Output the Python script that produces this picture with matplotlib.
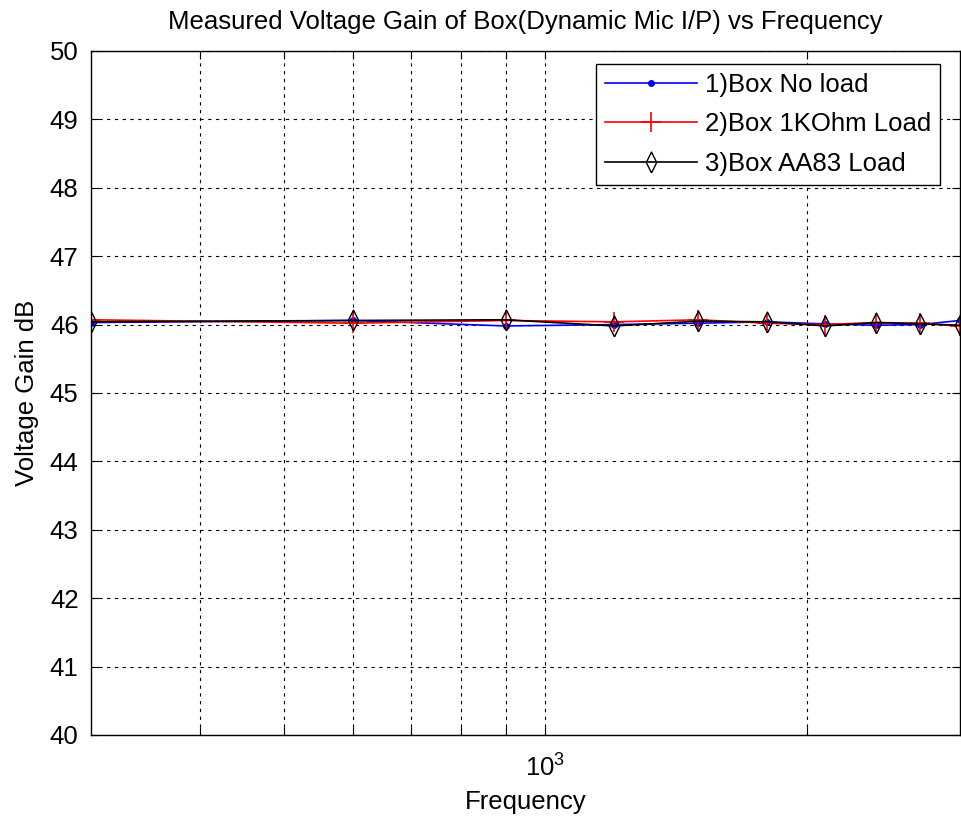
import matplotlib
matplotlib.use("Agg")
import matplotlib.pyplot as plt
from matplotlib.ticker import NullFormatter, FixedLocator

freq = [300, 600, 900, 1200, 1500, 1800, 2100, 2400, 2700, 3000]
gain_noload = [46.03, 46.06, 45.98, 46.00, 46.02, 46.04, 46.01, 45.99, 46.00, 46.06]
gain_1kohm = [46.07, 46.02, 46.06, 46.04, 46.07, 46.02, 46.00, 46.03, 46.02, 45.98]
gain_aa83 = [46.04, 46.06, 46.07, 45.98, 46.05, 46.04, 45.98, 46.03, 46.01, 45.99]
labels = ["1)Box No load", "2)Box 1KOhm Load", "3)Box AA83 Load"]
yticks = list(range(40, 51))
xmajor = [1000]
xminor = [400, 500, 600, 700, 800, 900, 2000]

plt.rcParams['font.family'] = ['Liberation Sans', 'DejaVu Sans']
fs = 18.5

fig = plt.figure(figsize=(9.62, 8.21), dpi=100)
ax = fig.add_axes([0.0946, 0.1048, 0.9034, 0.8331])

diamond = [(0, -1), (0.5, 0), (0, 1), (-0.5, 0), (0, -1)]

ax.plot(freq, gain_noload, color='blue', lw=1.2, marker='.', ms=8, label=labels[0])
ax.plot(freq, gain_1kohm, color='red', lw=1.2, marker='+', ms=15, mew=1.2, label=labels[1])
ax.plot(freq, gain_aa83, color='black', lw=1.2, marker=diamond, ms=15, mfc='none', mew=1.0, label=labels[2])

ax.set_xscale('log')
ax.set_xlim(300, 3000)
ax.set_ylim(40, 50)
ax.set_yticks(yticks)
ax.xaxis.set_major_locator(FixedLocator(xmajor))
ax.xaxis.set_minor_locator(FixedLocator(xminor))
ax.xaxis.set_minor_formatter(NullFormatter())

ax.grid(True, which='both', color='black', linestyle=(0, (3, 4)), linewidth=0.8)
ax.tick_params(which='both', direction='in', top=True, right=True, length=6, width=0.8, labelsize=fs)
ax.tick_params(axis='y', pad=9)
ax.tick_params(axis='x', pad=14)
for s in ax.spines.values():
    s.set_linewidth(1.0)

ax.set_title("Measured Voltage Gain of Box(Dynamic Mic I/P) vs Frequency", fontsize=fs, pad=16)
ax.set_xlabel("Frequency", fontsize=fs, labelpad=6)
ax.set_ylabel("Voltage Gain dB", fontsize=fs, labelpad=8)

leg = ax.legend(loc='upper right', bbox_to_anchor=(0.977, 0.981), fontsize=fs, frameon=True,
                fancybox=False, edgecolor='black', framealpha=1, handlelength=3.6,
                borderpad=0.35, labelspacing=0.6, handletextpad=0.3, borderaxespad=0)
leg.get_frame().set_linewidth(1.0)

fig.savefig("out.png", dpi=100)
